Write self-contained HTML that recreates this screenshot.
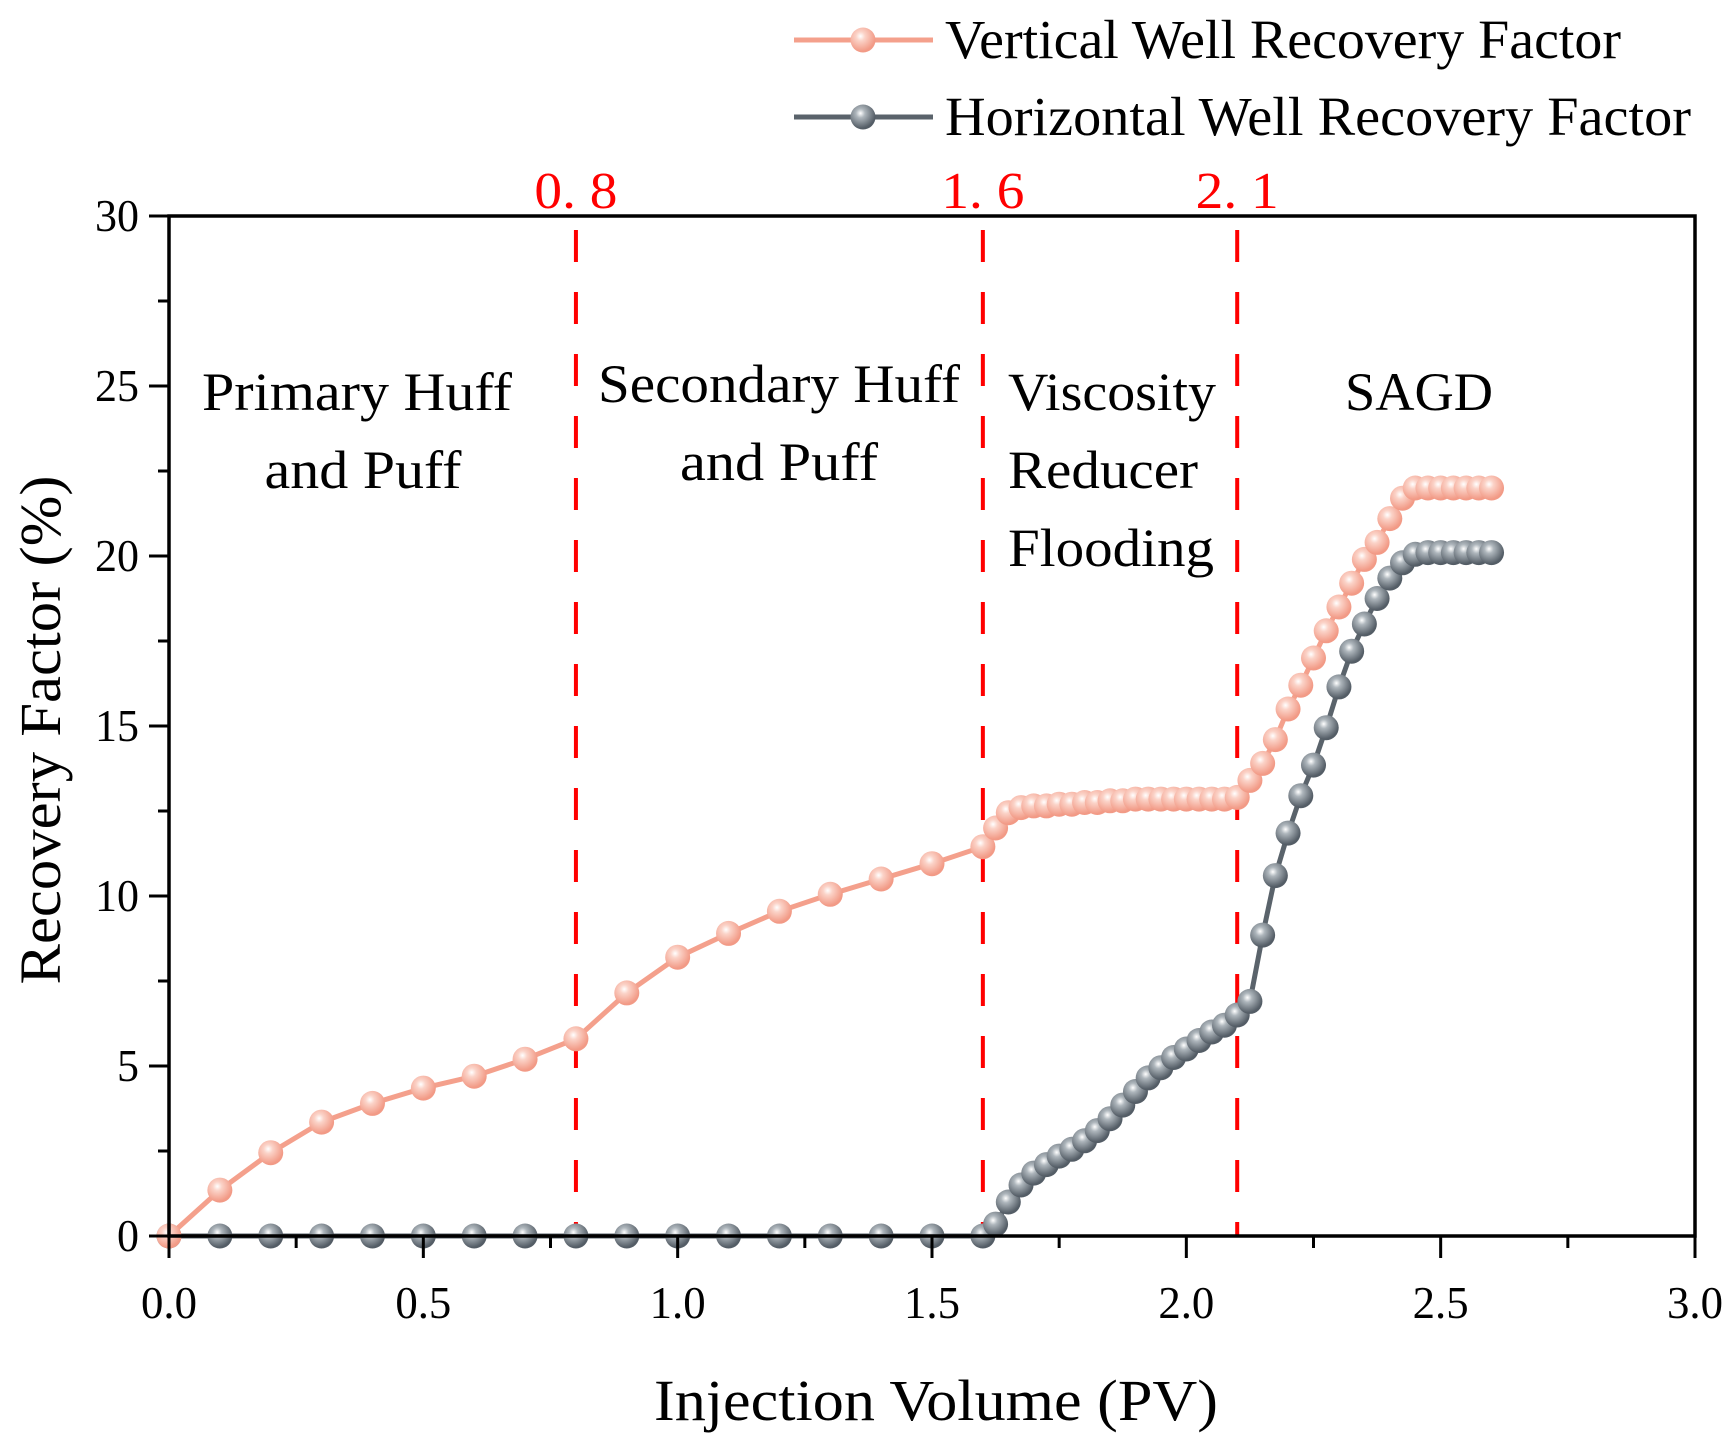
<!DOCTYPE html>
<html><head><meta charset="utf-8"><style>
html,body{margin:0;padding:0;background:#fff}
svg{display:block;font-family:"Liberation Serif",serif}
</style></head><body>
<svg id="chart" width="1733" height="1446" viewBox="0 0 1733 1446" xmlns="http://www.w3.org/2000/svg">
<defs>
<radialGradient id="gS" cx="0.4" cy="0.35" r="0.6"><stop offset="0" stop-color="#fff"/><stop offset="0.3" stop-color="#fbd3c8"/><stop offset="1" stop-color="#f29a86"/></radialGradient>
<radialGradient id="gH" cx="0.4" cy="0.35" r="0.6"><stop offset="0" stop-color="#fff"/><stop offset="0.3" stop-color="#aeb6bc"/><stop offset="1" stop-color="#545d66"/></radialGradient>
</defs>
<g id="plot"></g>
</svg>
<script>
const xVert=[0,0.1,0.2,0.3,0.4,0.5,0.6,0.7,0.8,0.9,1.0,1.1,1.2,1.3,1.4,1.5,1.6,1.625,1.65,1.675,1.7,1.725,1.75,1.775,1.8,1.825,1.85,1.875,1.9,1.925,1.95,1.975,2.0,2.025,2.05,2.075,2.1,2.125,2.15,2.175,2.2,2.225,2.25,2.275,2.3,2.325,2.35,2.375,2.4,2.425,2.45,2.475,2.5,2.525,2.55,2.575,2.6];
const yVert=[0,1.35,2.45,3.35,3.9,4.35,4.7,5.2,5.8,7.15,8.2,8.9,9.55,10.05,10.5,10.95,11.45,12.0,12.45,12.6,12.65,12.65,12.7,12.7,12.75,12.75,12.8,12.8,12.85,12.85,12.85,12.85,12.85,12.85,12.85,12.85,12.9,13.4,13.9,14.6,15.5,16.2,17.0,17.8,18.5,19.2,19.9,20.4,21.1,21.7,22.0,22.0,22.0,22.0,22.0,22.0,22.0];
const xHor=[0,0.1,0.2,0.3,0.4,0.5,0.6,0.7,0.8,0.9,1.0,1.1,1.2,1.3,1.4,1.5,1.6,1.625,1.65,1.675,1.7,1.725,1.75,1.775,1.8,1.825,1.85,1.875,1.9,1.925,1.95,1.975,2.0,2.025,2.05,2.075,2.1,2.125,2.15,2.175,2.2,2.225,2.25,2.275,2.3,2.325,2.35,2.375,2.4,2.425,2.45,2.475,2.5,2.525,2.55,2.575,2.6];
const yHor=[0,0,0,0,0,0,0,0,0,0,0,0,0,0,0,0,0,0.35,1.0,1.5,1.85,2.1,2.35,2.55,2.8,3.1,3.45,3.85,4.25,4.65,4.95,5.25,5.5,5.75,6.0,6.2,6.5,6.9,8.85,10.6,11.85,12.95,13.85,14.95,16.15,17.2,18.0,18.75,19.35,19.8,20.05,20.1,20.1,20.1,20.1,20.1,20.1];
const xTicks=[0,0.5,1.0,1.5,2.0,2.5,3.0];
const xTickLabels=["0.0","0.5","1.0","1.5","2.0","2.5","3.0"];
const yTicks=[0,5,10,15,20,25,30];
const yTickLabels=["0","5","10","15","20","25","30"];
const stageX=[0.8,1.6,2.1];
const stageLabels=["0. 8","1. 6","2. 1"];

const L=169,R=1702-7,T=216,B=1236;
const X=v=>L+(v-0)/3*(R-L);
const Y=v=>B-(v/30)*(B-T);
const NS="http://www.w3.org/2000/svg";
const g=document.getElementById('plot');
function mk(t,a,p){const e=document.createElementNS(NS,t);for(const k in a)e.setAttribute(k,a[k]);(p||g).appendChild(e);return e;}

stageX.forEach((s,i)=>{
  const l=mk('line',{x1:X(s),x2:X(s),y1:T+14,y2:B,stroke:'#ff0000','stroke-width':4,'stroke-dasharray':'32 30'});
  
  
  const t=mk('text',{x:X(s),y:208,'text-anchor':'middle','font-size':52,fill:'#ff0000',textLength:83,lengthAdjust:'spacingAndGlyphs'});
  t.textContent=stageLabels[i];
  
  
});

const regions=[["Primary Huff",357,410,'middle',310],["and Puff",363,488,'middle',197],["Secondary Huff",779,402,'middle',362],["and Puff",779,480,'middle',198],["Viscosity",1014-6,410,'start',208],["Reducer",1014-6,488,'start',190],["Flooding",1014-6,566,'start',206],["SAGD",1419,410,'middle',148]];
regions.forEach((r,i)=>{
  const t=mk('text',{x:r[1],y:r[2],'text-anchor':r[3],'font-size':54,fill:'#000',textLength:r[4],lengthAdjust:'spacingAndGlyphs'});
  t.textContent=r[0];
  
  
});

function series(xs,ys,color,grad,name){
  const pts=xs.map((x,i)=>X(x)+','+Y(ys[i])).join(' ');
  const pl=mk('polyline',{points:pts,fill:'none',stroke:color,'stroke-width':5});
  
  
  xs.forEach((x,i)=>{
    const c=mk('circle',{cx:X(x),cy:Y(ys[i]),r:12.5,fill:'url(#'+grad+')'});
    
    
  });
}
series(xHor,yHor,'#5a636b','gH','horizontal-well');
series(xVert,yVert,'#f4a08c','gS','vertical-well');

const fr=mk('rect',{x:L,y:T,width:R-L,height:B-T,fill:'none',stroke:'#000','stroke-width':3.5});



for(let v=0;v<=3.0001;v+=0.25){
  const major=Math.abs(v*2-Math.round(v*2))<1e-6;
  const tk=mk('line',{x1:X(v),x2:X(v),y1:B,y2:B+(major?22:12),stroke:'#000','stroke-width':3});
  
  
}
xTicks.forEach((v,i)=>{
  const t=mk('text',{x:X(v),y:1318,'text-anchor':'middle','font-size':46,textLength:56,lengthAdjust:'spacingAndGlyphs'});
  t.textContent=xTickLabels[i];
  
  
});
for(let v=0;v<=30.001;v+=2.5){
  const major=Math.abs(v/5-Math.round(v/5))<1e-6;
  const tk=mk('line',{x1:L,x2:L-(major?20:11),y1:Y(v),y2:Y(v),stroke:'#000','stroke-width':3});
  
  
}
yTicks.forEach((v,i)=>{
  const w=yTickLabels[i].length>1?44:22;
  const t=mk('text',{x:139,y:Y(v)+15,'text-anchor':'end','font-size':46,textLength:w,lengthAdjust:'spacingAndGlyphs'});
  t.textContent=yTickLabels[i];
  
  
});

const xt=mk('text',{x:936,y:1420,'text-anchor':'middle','font-size':58,textLength:564,lengthAdjust:'spacingAndGlyphs'});
xt.textContent='Injection Volume (PV)';


const yt=mk('text',{x:0,y:0,'text-anchor':'middle','font-size':58,transform:'translate(60,730) rotate(-90)',textLength:509,lengthAdjust:'spacingAndGlyphs'});
yt.textContent='Recovery Factor (%)';



const leg=[["Vertical Well Recovery Factor",40,'#f4a08c','gS',676],["Horizontal Well Recovery Factor",117,'#5a636b','gH',746]];
leg.forEach((e,i)=>{
  const lg=mk('g',{});
  
  
  mk('line',{x1:794,x2:933,y1:e[1],y2:e[1],stroke:e[2],'stroke-width':5},lg);
  mk('circle',{cx:863,cy:e[1],r:12.5,fill:'url(#'+e[3]+')'},lg);
  const t=mk('text',{x:945,y:e[1]+18,'font-size':55,textLength:e[4],lengthAdjust:'spacingAndGlyphs'},lg);
  t.textContent=e[0];
});
</script>
</body></html>
